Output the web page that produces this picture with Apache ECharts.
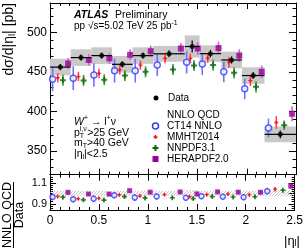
<!DOCTYPE html>
<html><head><meta charset="utf-8">
<script src="https://cdn.jsdelivr.net/npm/echarts@6/dist/echarts.min.js"></script>
<style>html,body{margin:0;padding:0;background:#fff}#c{width:306px;height:251px}</style>
</head><body><div id="c"></div>
<script>
// ---- data ----
const binEdges = [0, 0.21, 0.42, 0.63, 0.84, 1.05, 1.37, 1.52, 1.74, 1.95, 2.18, 2.5];
const dataValues = [456, 468, 470.5, 459.5, 470.5, 472.8, 482, 473, 465, 445.3, 371];
const dataStat = [4, 4, 4, 4, 4, 4.5, 7.5, 4.5, 4.5, 4.5, 5];
const dataSyst = [10.5, 10.5, 10.5, 10.5, 10.5, 10, 14, 10.5, 10.5, 10.5, 10];
const ct14 = [440.5, 442, 446, 451.5, 451.5, 458.5, 462, 460, 450, 428.5, 379];
const ct14Err = [15, 15, 15, 15, 15, 14, 14, 14, 13, 13, 12];
const mmht = [442.5, 444, 448, 452.5, 458.5, 467, 467, 467.3, 462, 439, 386];
const mmhtErr = [6, 6, 6, 6, 6, 6, 6, 6, 7, 7, 8];
const nnpdf = [439.5, 439, 440, 445.3, 450, 453, 458, 458.5, 448.7, 431, 382.5];
const nnpdfErr = [7, 7, 7, 7, 7, 7, 7, 7, 7, 7, 6];
const hera = [460.5, 465, 467, 471.5, 476, 479.5, 479.5, 480, 470.5, 450, 397];
const heraErr = [7, 7, 7, 7, 7, 7, 8, 8, 8, 8, 9.5];
const mainYLabels = [350, 400, 450, 500];
const ratioYLabels = [0.9, 1, 1.1];
const predNames = ['CT14 NNLO', 'MMHT2014', 'NNPDF3.1', 'HERAPDF2.0'];

// ---- helpers ----
const FONT = 'Liberation Sans';
const CROSS = 'path://M2,0H4V2H6V4H4V6H2V4H0V2H2Z';
const mctx = document.createElement('canvas').getContext('2d');
function tw(t, size, weight, style) {
  mctx.font = (style || 'normal') + ' ' + (weight || 'normal') + ' ' + size + 'px "' + FONT + '"';
  return mctx.measureText(t).width;
}
function txt(x, y, t, size, extra) {
  return Object.assign({ type: 'text', x: x, y: y, silent: true,
    style: { text: t, fontSize: size, fontFamily: FONT, fill: '#000', verticalAlign: 'middle', align: 'left' } }, extra || {});
}
function runs(x0, y0, parts) {
  let x = x0; const out = [];
  parts.forEach(p => {
    const s = p.s || 10;
    const e = txt(x, y0 + (p.dy || 0), p.t, s);
    e.style.fontWeight = p.w || 'normal';
    e.style.fontStyle = p.i ? 'italic' : 'normal';
    out.push(e);
    x += (p.adv !== undefined ? p.adv : tw(p.t, s, p.w, p.i ? 'italic' : 'normal'));
  });
  return out;
}
function hatch() {
  const c = document.createElement('canvas'); c.width = 3; c.height = 3;
  const g = c.getContext('2d'); g.strokeStyle = '#9a9a9a'; g.lineWidth = 0.6;
  g.beginPath(); g.moveTo(0, 3); g.lineTo(3, 0); g.moveTo(-1, 1); g.lineTo(1, -1); g.moveTo(2, 4); g.lineTo(4, 2); g.stroke();
  return c;
}
const HATCH = hatch();

const preds = [
  { name: predNames[0], vals: ct14, errs: ct14Err, color: '#3a3aff', bar: '#7070ff', symbol: 'circle', size: 6, rsize: 5, hollow: true },
  { name: predNames[1], vals: mmht, errs: mmhtErr, color: '#ff0000', bar: '#ff4a4a', symbol: CROSS, size: 4, rsize: 4 },
  { name: predNames[2], vals: nnpdf, errs: nnpdfErr, color: '#0a640a', bar: '#3c963c', symbol: CROSS, size: 6, rsize: 5 },
  { name: predNames[3], vals: hera, errs: heraErr, color: '#990099', bar: '#cc66cc', symbol: 'rect', size: 6, rsize: 5 }
];
function predX(i, k) { const lo = binEdges[i], hi = binEdges[i + 1]; return lo + (k + 0.5) * (hi - lo) / 4; }

// ---- layout ----
const L = 50, R = 10, MT = 3, MB = 174.7, RB = 210;

function vbarRender(color, w) {
  return function (params, api) {
    const a = api.coord([api.value(0), api.value(1)]);
    const b = api.coord([api.value(0), api.value(2)]);
    return { type: 'line', shape: { x1: a[0], y1: a[1], x2: b[0], y2: b[1] }, style: { stroke: color, lineWidth: w } };
  };
}
function rectRender(fill) {
  return function (params, api) {
    const a = api.coord([api.value(0), api.value(3)]);
    const b = api.coord([api.value(1), api.value(2)]);
    return { type: 'rect', shape: { x: a[0], y: a[1], width: b[0] - a[0], height: b[1] - a[1] }, style: { fill: fill } };
  };
}
function dataBarRender(params, api) {
  const lo = api.value(0), hi = api.value(1), v = api.value(2), e = api.value(3);
  const h1 = api.coord([lo, v]), h2 = api.coord([hi, v]);
  const c = api.coord([(lo + hi) / 2, v - e]), d = api.coord([(lo + hi) / 2, v + e]);
  return { type: 'group', children: [
    { type: 'line', shape: { x1: h1[0], y1: h1[1], x2: h2[0], y2: h2[1] }, style: { stroke: '#000', lineWidth: 1.2 } },
    { type: 'line', shape: { x1: c[0], y1: c[1], x2: d[0], y2: d[1] }, style: { stroke: '#000', lineWidth: 1.2 } }
  ] };
}

const series = [];
series.push({ type: 'custom', xAxisIndex: 0, yAxisIndex: 0, renderItem: rectRender('#c9c9c9'), z: 1,
  data: dataValues.map((v, i) => [binEdges[i], binEdges[i + 1], v - dataSyst[i], v + dataSyst[i]]) });
series.push({ type: 'custom', xAxisIndex: 2, yAxisIndex: 4, renderItem: rectRender({ image: HATCH, repeat: 'repeat' }), z: 1,
  data: dataValues.map((v, i) => { const r = Math.sqrt(dataStat[i] * dataStat[i] + dataSyst[i] * dataSyst[i]) / v; return [binEdges[i], binEdges[i + 1], 1 - r, 1 + r]; }) });

preds.forEach((p, k) => {
  const istyle = p.hollow ? { color: '#fff', borderColor: p.color, borderWidth: 1.5 } : { color: p.color };
  series.push({ type: 'custom', xAxisIndex: 0, yAxisIndex: 0, renderItem: vbarRender(p.bar, 1.6), z: 3,
    data: p.vals.map((v, i) => [predX(i, k), v - p.errs[i], v + p.errs[i]]) });
  series.push({ type: 'scatter', name: p.name, xAxisIndex: 0, yAxisIndex: 0, symbol: p.symbol, symbolSize: p.size, z: 4,
    itemStyle: istyle, data: p.vals.map((v, i) => [predX(i, k), v]) });
  series.push({ type: 'custom', xAxisIndex: 2, yAxisIndex: 4, renderItem: vbarRender(p.bar, 1.4), z: 3,
    data: p.vals.map((v, i) => [predX(i, k), (v - p.errs[i]) / dataValues[i], (v + p.errs[i]) / dataValues[i]]) });
  series.push({ type: 'scatter', name: p.name + ' ratio', xAxisIndex: 2, yAxisIndex: 4, symbol: p.symbol, symbolSize: p.rsize, z: 4,
    itemStyle: istyle, data: p.vals.map((v, i) => [predX(i, k), v / dataValues[i]]) });
});
series.push({ type: 'custom', xAxisIndex: 0, yAxisIndex: 0, renderItem: dataBarRender, z: 5,
  data: dataValues.map((v, i) => [binEdges[i], binEdges[i + 1], v, dataStat[i]]) });
series.push({ type: 'scatter', name: 'Data', xAxisIndex: 0, yAxisIndex: 0, symbol: 'circle', symbolSize: 5, z: 6,
  itemStyle: { color: '#000' }, data: dataValues.map((v, i) => [(binEdges[i] + binEdges[i + 1]) / 2, v]) });

const line = { show: true, onZero: false, lineStyle: { color: '#000', width: 1 } };
function xAx(grid, pos, showLabel, tickLen) {
  return { type: 'value', gridIndex: grid, position: pos, min: 0, max: 2.5, interval: 0.5,
    axisLine: line, splitLine: { show: false },
    axisTick: { show: true, inside: true, length: tickLen, lineStyle: { color: '#000' } },
    minorTick: { show: true, splitNumber: 5, length: tickLen / 2, lineStyle: { color: '#000' } },
    axisLabel: { show: showLabel, fontSize: 12, fontFamily: FONT, color: '#000', margin: 5,
      showMinLabel: true, showMaxLabel: true, formatter: v => (v === 0 ? '0' : String(v)) } };
}
function yMajor(grid, pos, min, max, vals, showLabel, len, fs, lh) {
  return { type: 'value', gridIndex: grid, position: pos, min: min, max: max,
    axisLine: line, splitLine: { show: false },
    axisTick: { show: true, inside: true, length: len, customValues: vals, lineStyle: { color: '#000' } },
    axisLabel: { show: showLabel, customValues: vals, fontSize: fs, lineHeight: lh, fontFamily: FONT, color: '#000', margin: 3,
      hideOverlap: false, showMinLabel: true, showMaxLabel: true, formatter: v => String(Math.round(v * 100) / 100) } };
}
function yMinor(grid, pos, min, max, step, len) {
  return { type: 'value', gridIndex: grid, position: pos, min: min, max: max, interval: step,
    axisLine: { show: false, onZero: false }, splitLine: { show: false },
    axisTick: { show: true, inside: true, length: len, lineStyle: { color: '#000' } },
    axisLabel: { show: false } };
}

// ---- texts ----
const g = [];
g.push(...runs(74, 15, [{ t: 'ATLAS', s: 10.5, w: 'bold', i: true, adv: 41 }, { t: 'Preliminary', s: 10.5 }]));
(function () {
  const base = 'pp \u221As=5.02 TeV 25 pb';
  g.push(...runs(74, 26, [{ t: base, s: 10 }]));
  g.push(txt(74 + tw(base, 10), 23, '-1', 7));
})();
g.push(...runs(74, 122, [{ t: 'W', s: 10.5, i: true }, { t: '+', s: 7, dy: -3.5 }, { t: ' \u2192 l', s: 10.5 }, { t: '+', s: 7, dy: -3.5 }, { t: '\u03BD', s: 10.5 }]));
(function () {
  const x = 74, y = 133; const pw = tw('p', 10.5);
  g.push(txt(x, y, 'p', 10.5));
  g.push(txt(x + pw, y - 4, 'l,\u03BD', 7));
  g.push(txt(x + pw, y + 3, 'T', 7));
  g.push(txt(x + pw + tw('l,\u03BD', 7) + 0.5, y, '>25 GeV', 10.5));
  const y2 = 143.5; const mw = tw('m', 10.5);
  g.push(txt(x, y2, 'm', 10.5));
  g.push(txt(x + mw, y2 + 3, 'T', 7));
  g.push(txt(x + mw + tw('T', 7), y2, '>40 GeV', 10.5));
  g.push(...runs(x, 154, [{ t: '|\u03B7', s: 10.5 }, { t: 'l', s: 7, dy: 3 }, { t: '|<2.5', s: 10.5 }]));
})();

// ---- legend (drawn as graphic elements) ----
(function () {
  const ix = 155.5, tx = 167;
  g.push({ type: 'circle', shape: { cx: ix + 0.5, cy: 98, r: 2.5 }, style: { fill: '#000' } });
  g.push(txt(168, 98, 'Data', 10));
  g.push(txt(tx, 115.5, 'NNLO QCD', 10));
  const rows = [126, 137, 148, 159];
  g.push({ type: 'circle', shape: { cx: ix, cy: rows[0], r: 3 }, style: { fill: '#fff', stroke: preds[0].color, lineWidth: 1.5 } });
  function plus(cx, cy, s, color) {
    const a = s / 6;
    const pts = [[2, 0], [4, 0], [4, 2], [6, 2], [6, 4], [4, 4], [4, 6], [2, 6], [2, 4], [0, 4], [0, 2], [2, 2]]
      .map(q => [cx - s / 2 + q[0] * a, cy - s / 2 + q[1] * a]);
    return { type: 'polygon', shape: { points: pts }, style: { fill: color } };
  }
  g.push(plus(ix, rows[1], 4, preds[1].color));
  g.push(plus(ix, rows[2], 6, preds[2].color));
  g.push({ type: 'rect', shape: { x: ix - 3, y: rows[3] - 3, width: 6, height: 6 }, style: { fill: preds[3].color } });
  predNames.forEach((n, i) => g.push(txt(tx, rows[i], n, 10)));
})();

(function () {
  const parts = [{ t: 'd\u03C3/d|\u03B7', s: 14 }, { t: 'l', s: 9.5, dy: 3 }, { t: '| [pb]', s: 14 }];
  const W = parts.reduce((a, p) => a + tw(p.t, p.s), 0);
  g.push({ type: 'group', x: 9, y: 3 + W, rotation: Math.PI / 2, children: runs(0, 0, parts) });
})();
(function () {
  const s = 12.5; const w1 = tw('NNLO QCD', s), w2 = tw('Data', s);
  const Wm = Math.max(w1, w2);
  g.push({ type: 'group', x: 0, y: 215, rotation: Math.PI / 2, children: [
    txt(-w1 / 2, 7.5, 'NNLO QCD', s),
    { type: 'line', shape: { x1: -Wm / 2, y1: 13.5, x2: Wm / 2, y2: 13.5 }, style: { stroke: '#000', lineWidth: 1 } },
    txt(-w2 / 2, 20, 'Data', s)
  ] });
})();
(function () {
  const parts = [{ t: '|\u03B7', s: 13 }, { t: 'l', s: 9, dy: 3 }, { t: '|', s: 13 }];
  const W = parts.reduce((a, p) => a + tw(p.t, p.s), 0);
  g.push(...runs(300 - W, 241, parts));
})();

const option = {
  animation: false,
  grid: [
    { left: L, right: R, top: MT, height: MB - MT },
    { left: L, right: R, top: MB, height: RB - MB }
  ],
  xAxis: [xAx(0, 'bottom', false, 6), xAx(0, 'top', false, 6), xAx(1, 'top', false, 6), xAx(1, 'bottom', true, 6)],
  yAxis: [
    yMajor(0, 'left', 320, 537, mainYLabels, true, 7, 12, 14), yMinor(0, 'left', 320, 537, 10, 3.5),
    yMajor(0, 'right', 320, 537, mainYLabels, false, 7, 12, 14), yMinor(0, 'right', 320, 537, 10, 3.5),
    yMajor(1, 'left', 0.84, 1.18, ratioYLabels, true, 6, 11, 8), yMinor(1, 'left', 0.84, 1.18, 0.02, 3),
    yMajor(1, 'right', 0.84, 1.18, ratioYLabels, false, 6, 11, 8), yMinor(1, 'right', 0.84, 1.18, 0.02, 3)
  ],
  graphic: g,
  series: series
};
const chart = echarts.init(document.getElementById('c'), null, { renderer: 'canvas' });
chart.setOption(option);
</script></body></html>
